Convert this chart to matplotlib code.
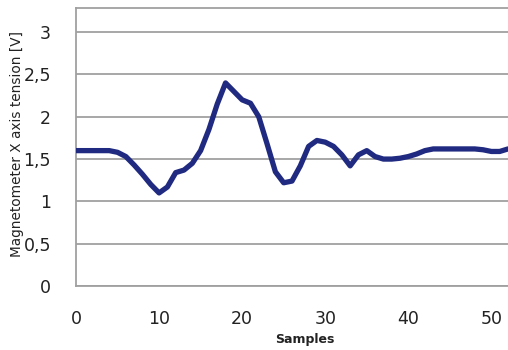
import numpy as np
import matplotlib
matplotlib.use("Agg")
import matplotlib.pyplot as plt

# magnetometer X axis reading, one value per sample
samples = list(range(53))
tension = [1.60, 1.60, 1.60, 1.60, 1.60, 1.58, 1.53, 1.43, 1.32, 1.20,
           1.10, 1.17, 1.34, 1.37, 1.45, 1.60, 1.85, 2.15, 2.40, 2.30,
           2.20, 2.16, 2.00, 1.68, 1.35, 1.22, 1.24, 1.42, 1.65, 1.72,
           1.70, 1.65, 1.55, 1.42, 1.55, 1.60, 1.53, 1.50, 1.50, 1.51,
           1.53, 1.56, 1.60, 1.62, 1.62, 1.62, 1.62, 1.62, 1.62, 1.61,
           1.59, 1.59, 1.62]

yticks = [0, 0.5, 1, 1.5, 2, 2.5, 3]
ytick_labels = ["0", "0,5", "1", "1,5", "2", "2,5", "3"]
xticks = [0, 10, 20, 30, 40, 50]

fig = plt.figure(figsize=(5.08, 3.5), dpi=100)
ax = fig.add_axes([0.1496, 0.1829, 0.8504, 0.7943])

ax.plot(samples, tension, color="#1f2a80", lw=3.8,
        solid_joinstyle="round", solid_capstyle="round", zorder=3)

ax.set_xlim(0, 52)
ax.set_ylim(0, 3.286)
ax.set_yticks(yticks)
ax.set_yticklabels(ytick_labels)
ax.set_xticks(xticks)

ax.grid(axis="y", color="#a0a0a0", lw=1.3)
ax.set_axisbelow(True)
for s in ["left", "top", "bottom"]:
    ax.spines[s].set_color("#a0a0a0")
    ax.spines[s].set_linewidth(1.3)
ax.spines["right"].set_visible(False)

ax.tick_params(length=0, labelsize=12.5, colors="#222222")
ax.tick_params(axis="y", pad=18)
ax.tick_params(axis="x", pad=17)

ax.set_ylabel("Magnetometer X axis tension [V]", fontsize=9.8, color="#222222")
ax.set_xlabel("Samples", fontsize=9, color="#222222", fontweight="bold")
ax.yaxis.set_label_coords(-0.12, 0.51)
ax.xaxis.set_label_coords(0.53, -0.17)

fig.savefig("out.png", dpi=100)
